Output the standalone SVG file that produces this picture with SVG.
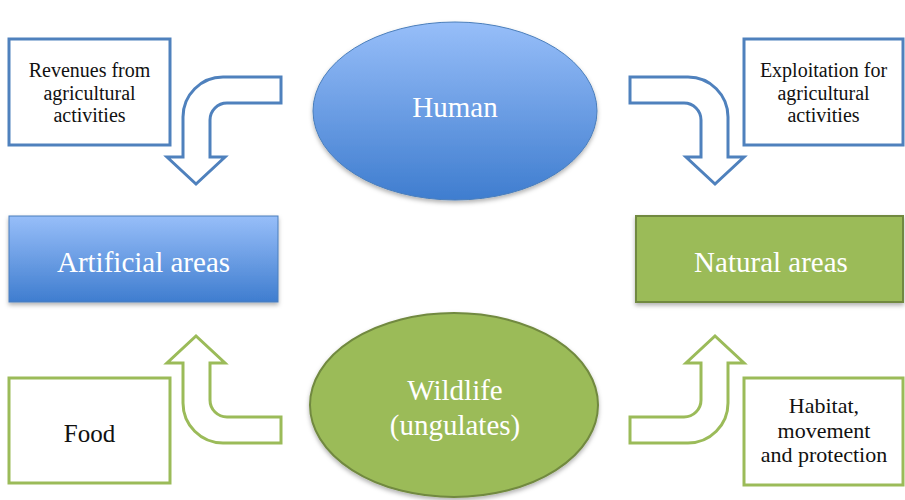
<svg xmlns="http://www.w3.org/2000/svg" width="905" height="500" viewBox="0 0 905 500">
  <defs>
    <linearGradient id="blueFill" x1="0" y1="0" x2="0" y2="1">
      <stop offset="0" stop-color="#97bef9"/>
      <stop offset="1" stop-color="#3f7dcf"/>
    </linearGradient>
    <filter id="shadow" x="-10%" y="-10%" width="120%" height="125%">
      <feDropShadow dx="0" dy="2.5" stdDeviation="2" flood-color="#000" flood-opacity="0.3"/>
    </filter>
    <!-- bent arrow: horizontal shaft on the right, turning down into a point -->
    <path id="bentArrow" d="M281,77 H223 A40,40 0 0 0 183,117 V157 H167 L196,184 L225,157 H210 V120 A17,17 0 0 1 227,103 H281 Z"/>
  </defs>
  <style>
    text { font-family: 'Liberation Serif', 'Times New Roman', 'DejaVu Serif', serif; text-anchor: middle; }
    .label { font-size: 20px; fill: #111; }
    .big { font-size: 29px; fill: #fff; }
    .blueBox { fill: #fff; stroke: #4f81bd; stroke-width: 3; }
    .greenBox { fill: #fff; stroke: #9bbb59; stroke-width: 3; }
    .blueArrow { fill: #fff; stroke: #4f81bd; stroke-width: 3; stroke-linejoin: miter; }
    .greenArrow { fill: #fff; stroke: #9bbb59; stroke-width: 3; stroke-linejoin: miter; }
    .blueShape { fill: url(#blueFill); stroke: #4a7ebb; stroke-width: 1; filter: url(#shadow); }
    .greenShape { fill: #9bbb59; stroke: #71893f; stroke-width: 2; filter: url(#shadow); }
  </style>

  <rect width="905" height="500" fill="#fff"/>

  <!-- connectors: bent block arrows -->
  <g id="connectors">
    <use href="#bentArrow" class="blueArrow"/>
    <use href="#bentArrow" class="blueArrow" transform="translate(911,0) scale(-1,1)"/>
    <use href="#bentArrow" class="greenArrow" transform="translate(0,520) scale(1,-1)"/>
    <use href="#bentArrow" class="greenArrow" transform="translate(911,520) scale(-1,-1)"/>
  </g>

  <g id="revenues" font-family="Liberation Serif, serif">
    <rect class="blueBox" x="9" y="39" width="161" height="106"/>
    <text class="label" x="89.5" y="77">Revenues from</text>
    <text class="label" x="89.5" y="100">agricultural</text>
    <text class="label" x="89.5" y="122">activities</text>
  </g>

  <g id="exploitation" font-family="Liberation Serif, serif">
    <rect class="blueBox" x="744" y="39" width="159" height="106"/>
    <text class="label" x="823.5" y="77">Exploitation for</text>
    <text class="label" x="823.5" y="100">agricultural</text>
    <text class="label" x="823.5" y="122">activities</text>
  </g>

  <g id="human" font-family="Liberation Serif, serif">
    <ellipse class="blueShape" cx="455" cy="111" rx="142" ry="89"/>
    <text class="big" x="455" y="117">Human</text>
  </g>

  <g id="artificial" font-family="Liberation Serif, serif">
    <rect class="blueShape" x="9" y="216" width="269" height="86"/>
    <text class="big" x="143.5" y="272">Artificial areas</text>
  </g>

  <g id="natural" font-family="Liberation Serif, serif">
    <rect class="greenShape" x="636" y="216" width="267" height="86"/>
    <text class="big" x="771" y="272">Natural areas</text>
  </g>

  <g id="wildlife" font-family="Liberation Serif, serif">
    <ellipse class="greenShape" cx="454" cy="405" rx="144" ry="92"/>
    <text class="big" x="455" y="400">Wildlife</text>
    <text class="big" x="455" y="435">(ungulates)</text>
  </g>

  <g id="food" font-family="Liberation Serif, serif">
    <rect class="greenBox" x="9" y="378" width="161" height="105"/>
    <text x="89.5" y="442" font-size="25" fill="#111">Food</text>
  </g>

  <g id="habitat" font-family="Liberation Serif, serif">
    <rect class="greenBox" x="744" y="378" width="159" height="107"/>
    <text x="824" y="413" font-size="22" fill="#111">Habitat,</text>
    <text x="824" y="438" font-size="22" fill="#111">movement</text>
    <text x="824" y="462" font-size="22" fill="#111">and protection</text>
  </g>
</svg>
